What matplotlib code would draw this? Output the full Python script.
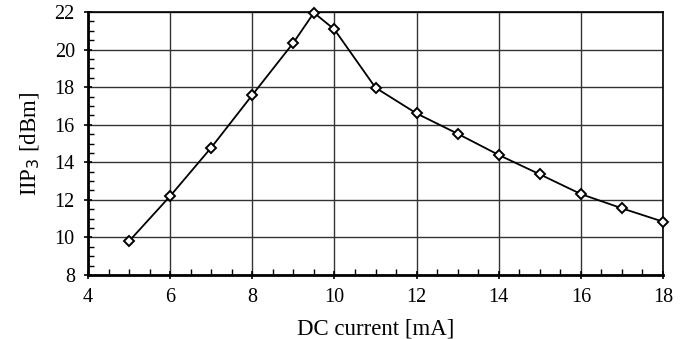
import matplotlib.pyplot as plt
from matplotlib.ticker import MultipleLocator

# DC current [mA] vs IIP3 [dBm]
current = [5, 6, 7, 8, 9, 9.5, 10, 11, 12, 13, 14, 15, 16, 17, 18]
iip3 = [9.8, 12.2, 14.78, 17.58, 20.36, 21.96, 21.07, 17.97, 16.6, 15.52,
        14.39, 13.36, 12.31, 11.55, 10.84]

plt.rcParams['font.family'] = 'Liberation Serif'

fig = plt.figure(figsize=(6.86, 3.39), dpi=100)
ax = fig.add_axes([88 / 686, 1 - 275 / 339, 575 / 686, 263 / 339])

ax.plot(current, iip3, color="black", linewidth=1.3, marker="D", markersize=5.5,
        markerfacecolor="white", markeredgecolor="black", markeredgewidth=1.4,
        zorder=3, clip_on=False)

ax.set_xlim(4, 18)
ax.set_ylim(8, 22)
ax.xaxis.set_major_locator(MultipleLocator(2))
ax.yaxis.set_major_locator(MultipleLocator(2))
ax.xaxis.set_minor_locator(MultipleLocator(0.5))
ax.yaxis.set_minor_locator(MultipleLocator(0.5))
ax.grid(which="major", color="#333333", linewidth=1.0)
ax.tick_params(which="major", direction="inout", length=6, width=1.2,
               labelsize=14.5, top=False, right=False, pad=6.5)
ax.tick_params(which="minor", direction="in", length=4, width=1.0,
               top=False, right=False)

for side in ["left", "bottom"]:
    ax.spines[side].set_linewidth(2)
for side in ["top", "right"]:
    ax.spines[side].set_linewidth(1.2)

ax.set_xlabel("DC current [mA]", fontsize=16.5, labelpad=8)
ax.set_ylabel("IIP$_3$ [dBm]", fontsize=16.5, labelpad=9)

fig.savefig("out.png", dpi=100)
